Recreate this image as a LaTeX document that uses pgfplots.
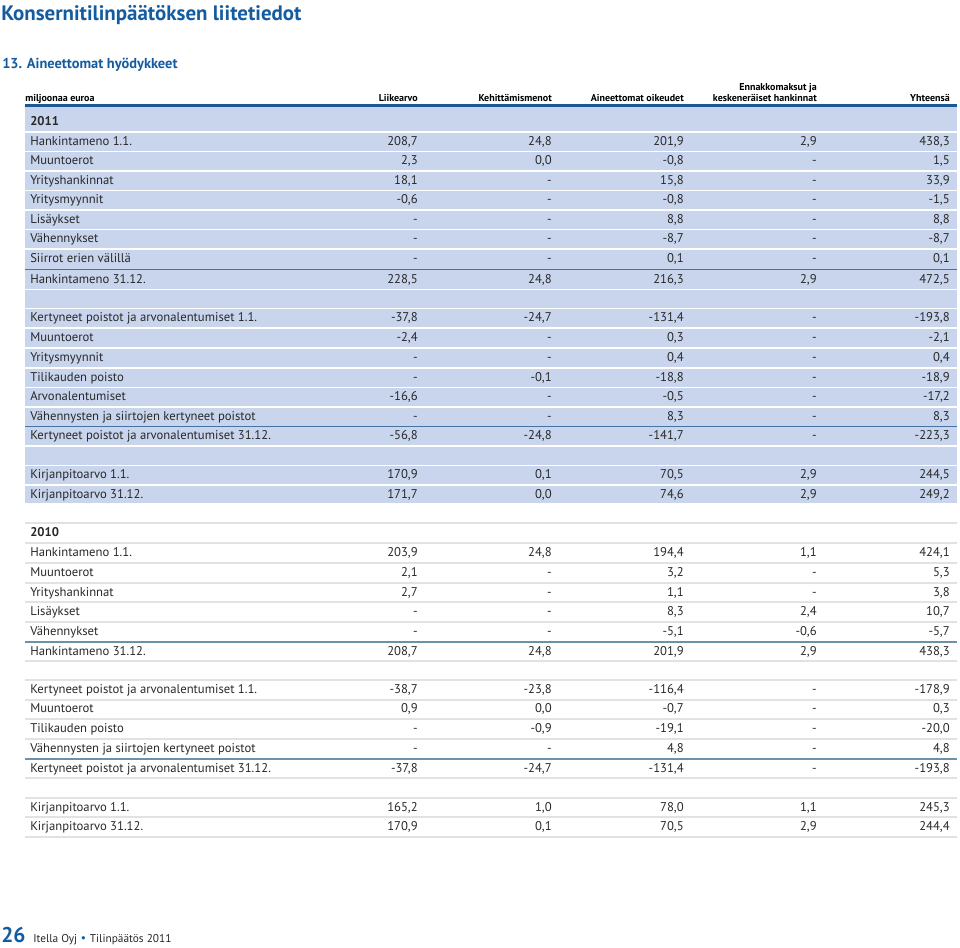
\documentclass[border=0pt]{standalone}
\usepackage{pgfplots}
\pgfplotsset{compat=1.18}
\usepackage{fontspec}
\setmainfont{PT Sans}
\newfontfamily\symfont{DejaVu Sans}
\definecolor{titleblue}{RGB}{20,92,160}
\definecolor{bgblue}{RGB}{200,213,237}
\definecolor{rulecol}{RGB}{28,88,150}
\definecolor{darkline}{RGB}{70,115,165}
\definecolor{darkline2}{RGB}{110,145,170}
\definecolor{txt}{RGB}{40,40,40}
\definecolor{grayline}{RGB}{226,226,226}
\tikzset{
  lab/.style={anchor=mid west, inner sep=0pt, text=txt, font=\fontsize{9.5}{11}\selectfont},
  num/.style={anchor=mid east, inner sep=0pt, text=txt, font=\fontsize{9.5}{11}\selectfont},
  hdr/.style={anchor=base east, inner sep=0pt, text=black, font=\fontsize{7.5}{9}\selectfont\bfseries}}
\newcommand\R[7]{%
 \node[lab] at (axis cs:30,#1) {#2};
 \node[num] at (axis cs:418,#1) {#3};
 \node[num] at (axis cs:552,#1) {#4};
 \node[num] at (axis cs:684,#1) {#5};
 \node[num] at (axis cs:817,#1) {#6};
 \node[num] at (axis cs:950,#1) {#7};}
\begin{document}
\begin{tikzpicture}
\begin{axis}[scale only axis, width=720pt, height=710.25pt,
  xmin=0, xmax=960, ymin=0, ymax=947, y dir=reverse, hide axis, clip=false]
\addplot[draw=none] coordinates {(0,0) (960,947)};
% backgrounds
\fill[bgblue] (axis cs:25,107) rectangle (axis cs:957,503);
\pgfplotsinvokeforeach{132,151.5,171,190.5,210,229.5,249,289.5,308.5,328,348,368,387.5,407,446,465.5,485}{
  \draw[white, line width=1.1pt] (axis cs:25,#1) -- (axis cs:957,#1);}
\draw[darkline, line width=1.1pt] (axis cs:25,269.5) -- (axis cs:957,269.5);
\draw[darkline, line width=1.1pt] (axis cs:25,426.5) -- (axis cs:957,426.5);
\pgfplotsinvokeforeach{523,543,563,583,602,622,661,680,700,719,739,778,798,817,837}{
  \draw[grayline, line width=1.1pt] (axis cs:25,#1) -- (axis cs:957,#1);}
\draw[darkline2, line width=1.1pt] (axis cs:25,642) -- (axis cs:957,642);
\draw[darkline2, line width=1.1pt] (axis cs:25,759) -- (axis cs:957,759);
\draw[rulecol, line width=2.3pt] (axis cs:25,105.5) -- (axis cs:957,105.5);
% titles
\node[anchor=base west, inner sep=0pt, text=titleblue, font=\fontsize{15.7}{18}\selectfont\bfseries] at (axis cs:1,20.5) {Konsernitilinpäätöksen liitetiedot};
\node[anchor=base west, inner sep=0pt, text=titleblue, font=\fontsize{10.8}{13}\selectfont\bfseries] at (axis cs:2,68) {13. Aineettomat hyödykkeet};
% header
\node[anchor=base west, inner sep=0pt, text=black, font=\fontsize{7.5}{9}\selectfont\bfseries] at (axis cs:25,101.5) {miljoonaa euroa};
\node[hdr] at (axis cs:418,101.5) {Liikearvo};
\node[hdr] at (axis cs:552,101.5) {Kehittämismenot};
\node[hdr] at (axis cs:684,101.5) {Aineettomat oikeudet};
\node[hdr] at (axis cs:817,90.5) {Ennakkomaksut ja};
\node[hdr] at (axis cs:817,101.5) {keskeneräiset hankinnat};
\node[hdr] at (axis cs:950,101.5) {Yhteensä};
% 2011
\node[lab, font=\fontsize{9.5}{11}\selectfont\bfseries] at (axis cs:30,122) {2011};
\R{142}{Hankintameno 1.1.}{208,7}{24,8}{201,9}{2,9}{438,3}
\R{161}{Muuntoerot}{2,3}{0,0}{-0,8}{-}{1,5}
\R{181}{Yrityshankinnat}{18,1}{-}{15,8}{-}{33,9}
\R{200}{Yritysmyynnit}{-0,6}{-}{-0,8}{-}{-1,5}
\R{220}{Lisäykset}{-}{-}{8,8}{-}{8,8}
\R{239}{Vähennykset}{-}{-}{-8,7}{-}{-8,7}
\R{259}{Siirrot erien välillä}{-}{-}{0,1}{-}{0,1}
\R{280}{Hankintameno 31.12.}{228,5}{24,8}{216,3}{2,9}{472,5}
\R{318}{Kertyneet poistot ja arvonalentumiset 1.1.}{-37,8}{-24,7}{-131,4}{-}{-193,8}
\R{338}{Muuntoerot}{-2,4}{-}{0,3}{-}{-2,1}
\R{358}{Yritysmyynnit}{-}{-}{0,4}{-}{0,4}
\R{378}{Tilikauden poisto}{-}{-0,1}{-18,8}{-}{-18,9}
\R{397}{Arvonalentumiset}{-16,6}{-}{-0,5}{-}{-17,2}
\R{417}{Vähennysten ja siirtojen kertyneet poistot}{-}{-}{8,3}{-}{8,3}
\R{436}{Kertyneet poistot ja arvonalentumiset 31.12.}{-56,8}{-24,8}{-141,7}{-}{-223,3}
\R{475}{Kirjanpitoarvo 1.1.}{170,9}{0,1}{70,5}{2,9}{244,5}
\R{495}{Kirjanpitoarvo 31.12.}{171,7}{0,0}{74,6}{2,9}{249,2}
% 2010
\node[lab, font=\fontsize{9.5}{11}\selectfont\bfseries] at (axis cs:30,533) {2010};
\R{553}{Hankintameno 1.1.}{203,9}{24,8}{194,4}{1,1}{424,1}
\R{573}{Muuntoerot}{2,1}{-}{3,2}{-}{5,3}
\R{593}{Yrityshankinnat}{2,7}{-}{1,1}{-}{3,8}
\R{612}{Lisäykset}{-}{-}{8,3}{2,4}{10,7}
\R{632}{Vähennykset}{-}{-}{-5,1}{-0,6}{-5,7}
\R{652}{Hankintameno 31.12.}{208,7}{24,8}{201,9}{2,9}{438,3}
\R{690}{Kertyneet poistot ja arvonalentumiset 1.1.}{-38,7}{-23,8}{-116,4}{-}{-178,9}
\R{709}{Muuntoerot}{0,9}{0,0}{-0,7}{-}{0,3}
\R{729}{Tilikauden poisto}{-}{-0,9}{-19,1}{-}{-20,0}
\R{749}{Vähennysten ja siirtojen kertyneet poistot}{-}{-}{4,8}{-}{4,8}
\R{769}{Kertyneet poistot ja arvonalentumiset 31.12.}{-37,8}{-24,7}{-131,4}{-}{-193,8}
\R{808}{Kirjanpitoarvo 1.1.}{165,2}{1,0}{78,0}{1,1}{245,3}
\R{827}{Kirjanpitoarvo 31.12.}{170,9}{0,1}{70,5}{2,9}{244,4}
% footer
\node[anchor=base west, inner sep=0pt, text=titleblue, font=\fontsize{16}{18}\selectfont\bfseries] at (axis cs:1,942) {26};
\node[anchor=base west, inner sep=0pt, text=txt, font=\fontsize{8.5}{10}\selectfont] at (axis cs:33,942) {Itella Oyj {\symfont\textcolor{titleblue}{•}} Tilinpäätös 2011};
\end{axis}
\end{tikzpicture}
\end{document}
